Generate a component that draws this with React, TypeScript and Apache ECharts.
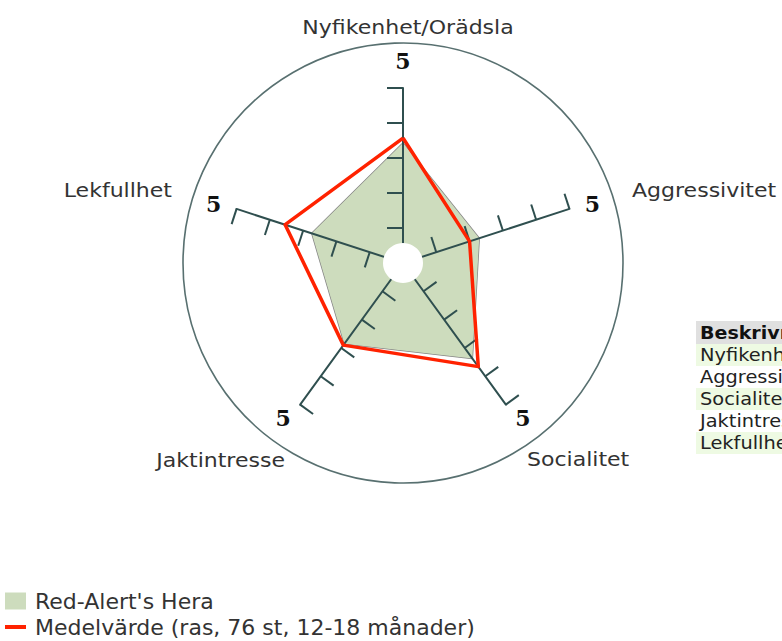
import React, { useEffect, useRef } from "react";
import * as echarts from "echarts";

// ---- data (categories listed clockwise from the top) ----
const categories = ["Nyfikenhet/Orädsla", "Aggressivitet", "Socialitet", "Jaktintresse", "Lekfullhet"];
const heraValues = [3.43, 2.29, 3.37, 2.85, 2.74];
const averageValues = [3.57, 2.0, 3.66, 2.9, 3.54];
const maxValue = 5;
const maxLabel = "5";
const seriesNames = ["Red-Alert's Hera", "Medelvärde (ras, 76 st, 12-18 månader)"];
const tableHeader = "Beskrivning";

// ---- layout / style ----
const CX = 403;
const CY = 263;
const AXIS_R = 175;
const RING_R = 220;
const HOLE_R = 20;
const FONT = 'Verdana, "DejaVu Sans", sans-serif';
const TEXT = "#333333";
const AXIS = "#2f4f4f";
const GREEN = "#cddcbd";
const RED = "#ff2200";

// ECharts radar places indicators counter-clockwise; categories are clockwise.
const order = [0, 4, 3, 2, 1];

const labelPos: { x: number; y: number; align: string }[] = [
  { x: 408, y: 28, align: "center" },
  { x: 632, y: 191, align: "left" },
  { x: 527, y: 460, align: "left" },
  { x: 285, y: 461, align: "right" },
  { x: 172, y: 191, align: "right" },
];

export default function App() {
  const ref = useRef<HTMLDivElement>(null);

  useEffect(() => {
    if (!ref.current) return;
    const chart = echarts.init(ref.current, undefined, { renderer: "svg" });

    const indicators = order.map((i) => ({ name: categories[i], min: 0, max: maxValue }));
    const fiveIndicators = order.map(() => ({ name: maxLabel, min: 0, max: maxValue }));

    const graphics: any[] = [];
    // hole in the middle
    graphics.push({
      type: "circle",
      shape: { cx: CX, cy: CY, r: HOLE_R },
      style: { fill: "#ffffff" },
      z: 100,
    });
    // category labels
    categories.forEach((c, i) => {
      const p = labelPos[i];
      graphics.push({
        type: "text",
        x: p.x,
        y: p.y,
        scaleX: 1.16,
        style: {
          text: c,
          fill: TEXT,
          font: `19px ${FONT}`,
          textAlign: p.align,
          textVerticalAlign: "middle",
        },
        z: 100,
      });
    });
    // description table (cut by the page edge)
    const tx = 696;
    const ty = 321;
    const rowH = 22;
    graphics.push({
      type: "rect",
      shape: { x: tx, y: ty, width: 200, height: 23 },
      style: { fill: "#e0e0e0" },
      z: 100,
    });
    graphics.push({
      type: "text",
      x: tx + 4,
      y: ty + 12,
      scaleX: 1.12,
      style: {
        text: tableHeader,
        fill: "#111111",
        font: `bold 17px ${FONT}`,
        textVerticalAlign: "middle",
      },
      z: 101,
    });
    categories.forEach((c, i) => {
      const y = ty + 23 + i * rowH;
      if (i % 2 === 0) {
        graphics.push({
          type: "rect",
          shape: { x: tx, y, width: 200, height: rowH },
          style: { fill: "#eefae3" },
          z: 100,
        });
      }
      graphics.push({
        type: "text",
        x: tx + 4,
        y: y + rowH / 2,
        scaleX: 1.14,
        style: {
          text: c,
          fill: "#222222",
          font: `17px ${FONT}`,
          textVerticalAlign: "middle",
        },
        z: 101,
      });
    });

    const option: any = {
      animation: false,
      radar: [
        {
          center: [CX, CY],
          radius: AXIS_R,
          startAngle: 90,
          splitNumber: 5,
          shape: "polygon",
          indicator: indicators,
          z: 2,
          axisName: { show: false },
          axisLine: { show: true, lineStyle: { color: AXIS, width: 2 } },
          axisTick: { show: true, length: 16, lineStyle: { color: AXIS, width: 2 } },
          axisLabel: { show: false },
          splitLine: { show: false },
          splitArea: { show: false },
        },
        {
          center: [CX, CY],
          radius: RING_R,
          startAngle: 90,
          splitNumber: 1,
          shape: "circle",
          indicator: indicators.map((d) => ({ ...d })),
          z: 1,
          axisName: { show: false },
          axisLine: { show: false },
          axisTick: { show: false },
          axisLabel: { show: false },
          splitLine: { show: true, lineStyle: { color: "#587070", width: 1.6 } },
          splitArea: { show: false },
        },
        {
          center: [CX, CY],
          radius: AXIS_R,
          startAngle: 90,
          splitNumber: 5,
          shape: "polygon",
          indicator: fiveIndicators,
          nameGap: 16,
          z: 2,
          axisName: {
            show: true,
            color: "#111111",
            fontFamily: '"DejaVu Serif", Georgia, serif',
            fontWeight: "bold",
            fontSize: 22,
          },
          axisLine: { show: false },
          axisTick: { show: false },
          axisLabel: { show: false },
          splitLine: { show: false },
          splitArea: { show: false },
        },
      ],
      legend: [
        {
          data: [seriesNames[0]],
          left: 5,
          top: 590,
          padding: 0,
          orient: "vertical",
          icon: "rect",
          itemWidth: 21,
          itemHeight: 17,
          selectedMode: false,
          itemStyle: { borderWidth: 0 },
          textStyle: { fontFamily: FONT, fontSize: 22, color: TEXT, padding: [0, 0, 0, 4] },
        },
        {
          data: [seriesNames[1]],
          left: 5,
          top: 616,
          padding: 0,
          orient: "vertical",
          icon: "rect",
          itemWidth: 21,
          itemHeight: 4,
          selectedMode: false,
          itemStyle: { borderWidth: 0 },
          textStyle: { fontFamily: FONT, fontSize: 22, color: TEXT, padding: [0, 0, 0, 4] },
        },
      ],
      series: [
        {
          type: "radar",
          radarIndex: 0,
          z: 1,
          symbol: "none",
          silent: true,
          data: [
            {
              name: seriesNames[0],
              value: order.map((i) => heraValues[i]),
              itemStyle: { color: GREEN },
              lineStyle: { color: "#858585", width: 1.5 },
              areaStyle: { color: GREEN, opacity: 1 },
            },
          ],
        },
        {
          type: "radar",
          radarIndex: 0,
          z: 3,
          symbol: "none",
          silent: true,
          data: [
            {
              name: seriesNames[1],
              value: order.map((i) => averageValues[i]),
              itemStyle: { color: RED },
              lineStyle: { color: RED, width: 3.5 },
            },
          ],
        },
      ],
      graphic: graphics,
    };

    chart.setOption(option);
    return () => chart.dispose();
  }, []);

  return (
    <div
      ref={ref}
      style={{ position: "absolute", left: 0, top: 0, width: 782, height: 641, background: "#ffffff" }}
    />
  );
}
